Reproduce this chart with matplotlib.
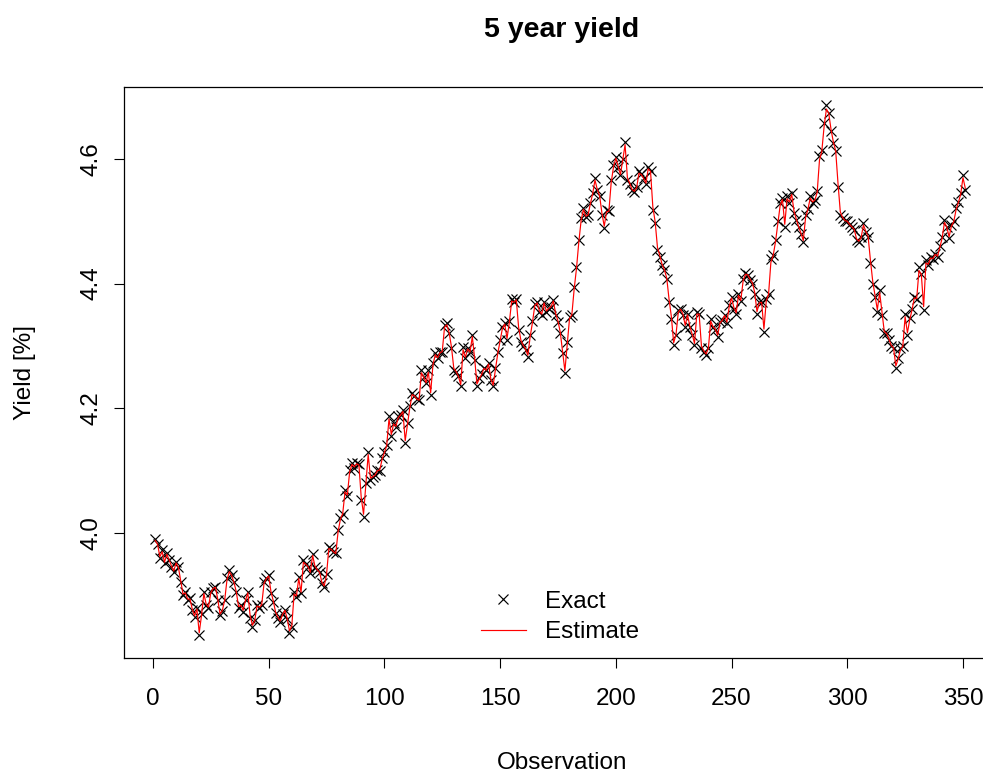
import matplotlib
matplotlib.use("Agg")
import matplotlib.pyplot as plt

plt.rcParams['font.family'] = ['Liberation Sans', 'DejaVu Sans']

exact = [
    3.99, 3.983, 3.96, 3.972, 3.952, 3.968, 3.957, 3.946, 3.938, 3.954,
    3.946, 3.922, 3.90, 3.905, 3.893, 3.895, 3.877, 3.866, 3.88, 3.836,
    3.87, 3.906, 3.885, 3.88, 3.906, 3.912, 3.914, 3.893, 3.868, 3.875,
    3.893, 3.928, 3.94, 3.932, 3.922, 3.905, 3.88, 3.885, 3.874, 3.893,
    3.906, 3.864, 3.85, 3.86, 3.885, 3.88, 3.885, 3.922, 3.928, 3.933,
    3.904, 3.89, 3.872, 3.864, 3.858, 3.87, 3.877, 3.862, 3.84, 3.85,
    3.906, 3.898, 3.93, 3.903, 3.957, 3.95, 3.946, 3.936, 3.967, 3.946,
    3.94, 3.938, 3.919, 3.914, 3.935, 3.978, 3.975, 3.97, 3.968, 4.005,
    4.024, 4.03, 4.069, 4.06, 4.101, 4.112, 4.105, 4.112, 4.11, 4.053,
    4.026, 4.08, 4.13, 4.085, 4.09, 4.093, 4.101, 4.10, 4.12, 4.13,
    4.141, 4.187, 4.155, 4.176, 4.17, 4.187, 4.19, 4.197, 4.144, 4.176,
    4.203, 4.224, 4.22, 4.215, 4.213, 4.261, 4.25, 4.24, 4.261, 4.221,
    4.272, 4.288, 4.28, 4.29, 4.291, 4.334, 4.336, 4.32, 4.296, 4.261,
    4.259, 4.251, 4.235, 4.299, 4.28, 4.296, 4.29, 4.318, 4.277, 4.235,
    4.248, 4.255, 4.265, 4.261, 4.272, 4.245, 4.235, 4.264, 4.29, 4.31,
    4.33, 4.336, 4.31, 4.34, 4.376, 4.37, 4.376, 4.326, 4.307, 4.30,
    4.294, 4.283, 4.318, 4.34, 4.368, 4.37, 4.355, 4.35, 4.371, 4.355,
    4.36, 4.363, 4.374, 4.35, 4.339, 4.32, 4.288, 4.256, 4.307, 4.347,
    4.35, 4.395, 4.427, 4.47, 4.505, 4.521, 4.507, 4.51, 4.53, 4.545,
    4.569, 4.55, 4.54, 4.51, 4.489, 4.518, 4.516, 4.566, 4.59, 4.603,
    4.587, 4.574, 4.60, 4.627, 4.566, 4.56, 4.55, 4.547, 4.555, 4.58,
    4.575, 4.569, 4.56, 4.587, 4.58, 4.518, 4.497, 4.454, 4.443, 4.43,
    4.422, 4.408, 4.371, 4.344, 4.301, 4.318, 4.358, 4.36, 4.35, 4.331,
    4.352, 4.33, 4.318, 4.301, 4.355, 4.352, 4.296, 4.291, 4.285, 4.296,
    4.344, 4.33, 4.326, 4.315, 4.339, 4.342, 4.35, 4.336, 4.366, 4.379,
    4.36, 4.352, 4.384, 4.372, 4.408, 4.417, 4.414, 4.406, 4.40, 4.384,
    4.352, 4.371, 4.37, 4.323, 4.376, 4.384, 4.44, 4.446, 4.47, 4.50,
    4.529, 4.537, 4.491, 4.54, 4.53, 4.545, 4.513, 4.502, 4.49, 4.48,
    4.467, 4.51, 4.52, 4.54, 4.53, 4.534, 4.548, 4.604, 4.614, 4.657,
    4.686, 4.673, 4.644, 4.625, 4.612, 4.555, 4.51, 4.505, 4.50, 4.50,
    4.495, 4.491, 4.486, 4.47, 4.467, 4.475, 4.497, 4.483, 4.475, 4.433,
    4.40, 4.379, 4.355, 4.39, 4.35, 4.32, 4.32, 4.31, 4.30, 4.296,
    4.264, 4.28, 4.296, 4.30, 4.352, 4.318, 4.345, 4.36, 4.379, 4.375,
    4.427, 4.415, 4.358, 4.438, 4.43, 4.443, 4.44, 4.448, 4.443, 4.46,
    4.475, 4.502, 4.49, 4.473, 4.494, 4.50, 4.521, 4.531, 4.545, 4.574,
    4.55,
]

estimate = [
    3.988, 3.982, 3.962, 3.970, 3.953, 3.966, 3.957, 3.947, 3.939, 3.952,
    3.945, 3.924, 3.902, 3.904, 3.894, 3.894, 3.878, 3.867, 3.878, 3.840,
    3.868, 3.903, 3.886, 3.881, 3.904, 3.911, 3.913, 3.894, 3.870, 3.876,
    3.892, 3.925, 3.938, 3.932, 3.921, 3.906, 3.882, 3.884, 3.876, 3.892,
    3.904, 3.867, 3.852, 3.860, 3.883, 3.881, 3.885, 3.919, 3.927, 3.931,
    3.906, 3.891, 3.873, 3.865, 3.859, 3.869, 3.876, 3.863, 3.843, 3.851,
    3.902, 3.899, 3.927, 3.905, 3.953, 3.950, 3.946, 3.937, 3.964, 3.947,
    3.941, 3.937, 3.921, 3.915, 3.933, 3.975, 3.974, 3.970, 3.967, 4.002,
    4.022, 4.031, 4.066, 4.061, 4.098, 4.110, 4.106, 4.111, 4.109, 4.057,
    4.030, 4.077, 4.126, 4.088, 4.090, 4.093, 4.100, 4.101, 4.118, 4.129,
    4.140, 4.183, 4.158, 4.175, 4.171, 4.185, 4.189, 4.195, 4.148, 4.174,
    4.201, 4.222, 4.220, 4.215, 4.213, 4.257, 4.250, 4.241, 4.258, 4.225,
    4.270, 4.286, 4.281, 4.289, 4.291, 4.330, 4.334, 4.321, 4.298, 4.264,
    4.259, 4.251, 4.238, 4.294, 4.282, 4.295, 4.290, 4.315, 4.280, 4.239,
    4.247, 4.254, 4.264, 4.261, 4.271, 4.247, 4.237, 4.262, 4.288, 4.308,
    4.328, 4.335, 4.312, 4.338, 4.372, 4.370, 4.374, 4.330, 4.309, 4.301,
    4.295, 4.285, 4.315, 4.338, 4.365, 4.369, 4.356, 4.351, 4.369, 4.356,
    4.360, 4.363, 4.372, 4.352, 4.340, 4.322, 4.291, 4.260, 4.303, 4.344,
    4.350, 4.391, 4.424, 4.466, 4.501, 4.519, 4.508, 4.510, 4.528, 4.544,
    4.566, 4.551, 4.541, 4.513, 4.492, 4.515, 4.516, 4.562, 4.587, 4.601,
    4.588, 4.575, 4.598, 4.623, 4.570, 4.561, 4.551, 4.548, 4.554, 4.577,
    4.575, 4.569, 4.561, 4.584, 4.580, 4.523, 4.499, 4.458, 4.445, 4.431,
    4.422, 4.409, 4.375, 4.347, 4.305, 4.318, 4.354, 4.359, 4.351, 4.333,
    4.350, 4.331, 4.319, 4.304, 4.351, 4.351, 4.300, 4.292, 4.287, 4.296,
    4.340, 4.331, 4.327, 4.317, 4.337, 4.341, 4.349, 4.338, 4.363, 4.377,
    4.362, 4.353, 4.381, 4.373, 4.404, 4.415, 4.414, 4.407, 4.401, 4.386,
    4.355, 4.369, 4.370, 4.327, 4.372, 4.383, 4.434, 4.445, 4.467, 4.496,
    4.525, 4.535, 4.495, 4.536, 4.531, 4.543, 4.516, 4.503, 4.491, 4.481,
    4.469, 4.506, 4.519, 4.537, 4.531, 4.534, 4.546, 4.598, 4.612, 4.652,
    4.680, 4.673, 4.647, 4.627, 4.613, 4.561, 4.515, 4.506, 4.501, 4.500,
    4.495, 4.491, 4.487, 4.472, 4.468, 4.474, 4.494, 4.484, 4.476, 4.438,
    4.404, 4.381, 4.358, 4.386, 4.354, 4.323, 4.320, 4.311, 4.301, 4.297,
    4.268, 4.279, 4.294, 4.299, 4.347, 4.321, 4.342, 4.358, 4.377, 4.376,
    4.421, 4.415, 4.363, 4.433, 4.431, 4.441, 4.440, 4.447, 4.444, 4.458,
    4.473, 4.498, 4.491, 4.475, 4.492, 4.499, 4.518, 4.530, 4.543, 4.570,
    4.553,
]

obs = list(range(1, len(exact) + 1))
x_ticks = [0, 50, 100, 150, 200, 250, 300, 350]
y_ticks = [4.0, 4.2, 4.4, 4.6]
y_tick_labels = ["4.0", "4.2", "4.4", "4.6"]

W, H = 983, 774
fig = plt.figure(figsize=(W / 100, H / 100), dpi=100)
left, right, top, bottom = 124, 1000, 87, 658
ax = fig.add_axes([left / W, (H - bottom) / H, (right - left) / W, (bottom - top) / H])

ax.plot(obs, exact, linestyle='none', marker='x', color='black',
        markersize=6.8, markeredgewidth=0.85, label='Exact')
ax.plot(obs, estimate, color='#FF0000', linewidth=0.85, label='Estimate')

ax.set_xlim(-12.5, 366.0)
ax.set_ylim(3.7995, 4.7153)

FS = 17.5
ax.set_xticks(x_ticks)
ax.set_xticklabels([str(t) for t in x_ticks])
ax.set_yticks(y_ticks)
ax.set_yticklabels(y_tick_labels, rotation=90, va='center')
ax.tick_params(axis='both', direction='out', length=7, width=0.8,
               labelsize=FS, color='black')
ax.tick_params(axis='x', pad=14.5)
ax.tick_params(axis='y', pad=8.3)
for s in ax.spines.values():
    s.set_linewidth(0.9)
    s.set_color('black')

fig.text(562 / W, 1 - 30 / H, "5 year yield", ha='center', va='center',
         fontsize=20.5, fontweight='bold')
fig.text(562 / W, 1 - 763 / H, "Observation", ha='center', va='center',
         fontsize=FS)
fig.text(25 / W, 1 - 372 / H, "Yield [%]", ha='center', va='center',
         fontsize=FS, rotation=90)

leg = ax.legend(loc='center',
                bbox_to_anchor=((560 - left) / (right - left), (bottom - 617) / (bottom - top)),
                frameon=False, fontsize=FS, handlelength=1.85,
                handletextpad=0.8, labelspacing=0.33, borderpad=0.2)

fig.savefig("out.png", dpi=100)
